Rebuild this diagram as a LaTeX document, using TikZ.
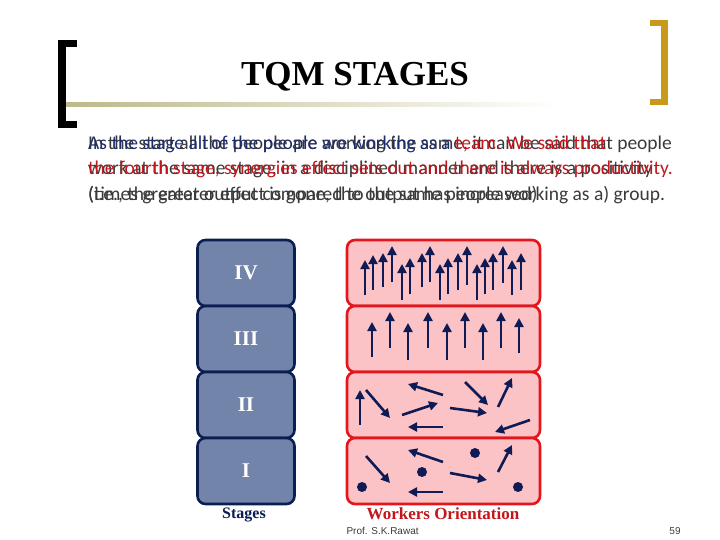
\documentclass[tikz,border=0pt]{standalone}
\usepackage{fontspec}
\setmainfont{Liberation Serif}
\setsansfont{Carlito}
\newfontfamily\footfont{Liberation Sans}
\usetikzlibrary{arrows.meta}
\definecolor{navyline}{HTML}{0B1E52}
\definecolor{stagefill}{HTML}{7384AA}
\definecolor{pinkfill}{HTML}{FBC3C6}
\definecolor{redline}{HTML}{E3161B}
\definecolor{darkred}{HTML}{C1161C}
\definecolor{arrowblue}{HTML}{0E1B55}
\definecolor{textnavy}{HTML}{1F2D6B}
\definecolor{textgray}{HTML}{3A3A3A}
\definecolor{barolive}{HTML}{BDB98A}
\definecolor{bracketgold}{HTML}{C89A18}
\tikzset{
    stagebox/.style={draw=navyline, fill=stagefill, line width=2.6pt, rounded corners=8pt,
        minimum width=97pt, minimum height=66pt, text=white, font=\bfseries\fontsize{21}{21}\selectfont},
    workbox/.style={draw=redline, fill=pinkfill, line width=2.6pt, rounded corners=8pt,
        minimum width=193pt, minimum height=66pt},
    worker/.style={draw=arrowblue, line width=2.6pt, -{Triangle[length=9pt,width=9pt]}},
    idle/.style={fill=arrowblue, circle, inner sep=0pt, minimum size=10pt},
    bodyline/.style={anchor=base west, inner sep=0pt, font=\sffamily\fontsize{19.5}{19.5}\selectfont},
}
\begin{document}
\begin{tikzpicture}[x=1pt, y=-1pt]
    \useasboundingbox (0,0) rectangle (720,540);

    % heading
    \shade[left color=barolive, right color=white] (66,103) rectangle (560,107);
    \fill (58,40) rectangle (66,128);
    \fill (58,40) rectangle (77,47);
    \fill (58,121) rectangle (77,128);
    \fill[bracketgold] (661,20) rectangle (668,105);
    \fill[bracketgold] (650,20) rectangle (668,26);
    \fill[bracketgold] (650,99) rectangle (668,105);
    \node[font=\bfseries\fontsize{35}{35}\selectfont] (title) at (355,77) {TQM STAGES};

    % two text boxes lying on top of each other
    \node[bodyline, text=textgray] (textA1) at (88,150) {In the start all the people are working the same, it can be said that people};
    \node[bodyline, text=textgray] (textA2) at (88,175) {work at the same stage, in a disciplined manner and there is a positivity};
    \node[bodyline, text=textgray] (textA3) at (88,201) {(i.e., the greater effect is gone, the output has increased)};
    \node[bodyline] (textB1) at (88,150) {\textcolor{textnavy}{As the stage all of the people are working as a }\textcolor{darkred}{team. We said that}};
    \node[bodyline, text=darkred] (textB2) at (88,175) {the fourth stage, synergies effect sets out and there is always productivity.};
    \node[bodyline, text=textgray] (textB3) at (88,201) {(times greater output compared to the same people working as a) group.};

    % stages
    \node[stagebox] (stage4) at (246,273) {IV};
    \node[stagebox] (stage3) at (246,339) {III};
    \node[stagebox] (stage2) at (246,405) {II};
    \node[stagebox] (stage1) at (246,471) {I};
    \node[font=\bfseries\fontsize{16}{16}\selectfont, text=navyline] (stagelabel) at (244,515) {Stages};

    % workers
    \node[workbox] (work4) at (443.5,273) {};
    \node[workbox] (work3) at (443.5,339) {};
    \node[workbox] (work2) at (443.5,405) {};
    \node[workbox] (work1) at (443.5,471) {};
    \node[font=\bfseries\fontsize{17}{17}\selectfont, text=darkred] (worklabel) at (443,514) {Workers Orientation};

    % stage IV: all in one direction
    \foreach \x/\b/\t in {365/295/260, 373/290/255, 383/287/253, 392/282/246,
        402/300/264, 410/294/258, 422/287/253, 430/282/246,
        440/300/264, 448/294/258, 458/290/253, 467/285/246,
        477/300/264, 485/294/258, 493/290/253, 503/283/246,
        512/295/260, 521/290/253}
        \draw[worker] (\x,\b) -- (\x,\t);

    % stage III
    \foreach \x/\b/\t in {372/357/322, 390/348/312, 408/360/323, 428/348/312,
        447/360/323, 465/348/312, 483/360/323, 501/348/312, 519/353/318}
        \draw[worker] (\x,\b) -- (\x,\t);

    % stage II
    \draw[worker] (360,425) -- (360,390);
    \draw[worker] (366,390) -- (390,418);
    \draw[worker] (443,395) -- (408,384);
    \draw[worker] (402,415) -- (438,403);
    \draw[worker] (443,427) -- (408,427);
    \draw[worker] (465,382) -- (488,405);
    \draw[worker] (450,408) -- (487,413);
    \draw[worker] (498,407) -- (512,378);
    \draw[worker] (530,420) -- (495,432);

    % stage I
    \draw[worker] (366,456) -- (390,483);
    \draw[worker] (443,462) -- (408,450);
    \draw[worker] (450,473) -- (487,480);
    \draw[worker] (443,492) -- (408,492);
    \draw[worker] (498,472) -- (512,445);
    \node[idle] (dot1) at (362,487) {};
    \node[idle] (dot2) at (422,472) {};
    \node[idle] (dot3) at (475,453) {};
    \node[idle] (dot4) at (518,487) {};

    % footer
    \node[anchor=west, font=\footfont\fontsize{10}{10}\selectfont, text=textgray] (author) at (343,531) {Prof. S.K.Rawat};
    \node[font=\footfont\fontsize{10}{10}\selectfont, text=textgray] (page) at (675,531) {59};
\end{tikzpicture}
\end{document}
